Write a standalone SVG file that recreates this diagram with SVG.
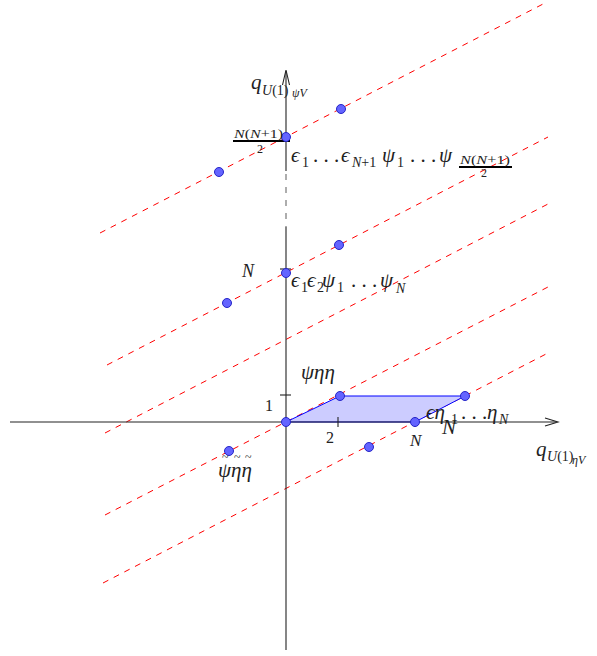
<svg xmlns="http://www.w3.org/2000/svg" width="597" height="656" viewBox="0 0 597 656">
<style>
.ax{stroke:#222;stroke-width:1.1;fill:none}
.dash{stroke:#ff0000;stroke-width:1;stroke-dasharray:6 6;fill:none}
.dot{fill:#6464ff;stroke:#2525c8;stroke-width:1}
.t{font-family:"Liberation Serif","DejaVu Serif",serif;fill:#222}
.i{font-style:italic}
.m{font-size:21px}
.s{font-size:14px}
.ss{font-size:12px}
</style>
<rect width="597" height="656" fill="#fff"/>
<g id="connectors">
<line class="dash" x1="100" y1="233" x2="545" y2="3"/>
<line class="dash" x1="107" y1="365" x2="548" y2="137"/>
<line class="dash" x1="105" y1="433" x2="548" y2="204"/>
<line class="dash" x1="105" y1="515" x2="548" y2="287"/>
<line class="dash" x1="103" y1="583" x2="548" y2="353"/>
</g>
<g id="region">
<polygon points="286,422 340,396 465,396 415,422" fill="#ccccff" stroke="#0000ff" stroke-width="1"/>
</g>
<g id="axes">
<line class="ax" x1="10" y1="422" x2="557" y2="422"/>
<path class="ax" d="M545,418 L558,422 L545,426"/>
<line class="ax" x1="286" y1="71" x2="286" y2="171"/>
<line x1="286" y1="174" x2="286" y2="227" stroke="#777" stroke-width="1.2" stroke-dasharray="6 7"/>
<line class="ax" x1="286" y1="227" x2="286" y2="650"/>
<path class="ax" d="M282.5,85 L286,70 L289.5,85"/>
<line class="ax" x1="338" y1="417" x2="338" y2="427"/>
<line class="ax" x1="415" y1="417" x2="415" y2="427"/>
<line class="ax" x1="280" y1="395" x2="291" y2="395"/>
<line class="ax" x1="280" y1="269" x2="291" y2="269"/>
<line x1="233" y1="141" x2="290" y2="141" stroke="#000" stroke-width="2"/>
<line x1="459" y1="167" x2="512" y2="167" stroke="#000" stroke-width="2"/>
</g>
<g id="points">
<circle class="dot" cx="286" cy="422" r="4.5"/>
<circle class="dot" cx="340" cy="396" r="4.5"/>
<circle class="dot" cx="465" cy="396" r="4.5"/>
<circle class="dot" cx="415" cy="422" r="4.5"/>
<circle class="dot" cx="369" cy="447" r="4.5"/>
<circle class="dot" cx="229" cy="451" r="4.5"/>
<circle class="dot" cx="286" cy="273" r="4.5"/>
<circle class="dot" cx="339" cy="245" r="4.5"/>
<circle class="dot" cx="227" cy="303" r="4.5"/>
<circle class="dot" cx="286" cy="137" r="4.5"/>
<circle class="dot" cx="341" cy="109" r="4.5"/>
<circle class="dot" cx="219" cy="172" r="4.5"/>
</g>
<g id="label-qpsi">
<text class="t i" x="251" y="89" font-size="21">q</text>
<text class="t s" x="262" y="95" font-size="15"><tspan class="i">U</tspan>(1)</text>
<text class="t ss i" x="292" y="97" font-size="11">ψV</text>
</g>
<g id="label-qeta">
<text class="t i" x="536" y="456" font-size="21">q</text>
<text class="t s" x="547" y="461" font-size="14"><tspan class="i">U</tspan>(1)</text>
<text class="t ss i" x="572" y="464" font-size="11">ηV</text>
</g>
<g id="label-half">
<text class="t ss" x="234" y="138" textLength="49" lengthAdjust="spacingAndGlyphs"><tspan class="i">N</tspan>(<tspan class="i">N</tspan>+1)</text>
<text class="t ss" x="257" y="153">2</text>
</g>
<g id="label-top">
<text class="t m i" x="291" y="162">ϵ</text>
<text class="t s" x="302" y="167">1</text>
<text class="t m" x="313" y="162">. . .</text>
<text class="t m i" x="341" y="162">ϵ</text>
<text class="t s" x="352" y="167"><tspan class="i">N</tspan>+1</text>
<text class="t m i" x="382" y="162">ψ</text>
<text class="t s" x="397" y="167">1</text>
<text class="t m" x="410" y="162">. . .</text>
<text class="t m i" x="439" y="162">ψ</text>
<text class="t ss" x="460" y="164" textLength="50" lengthAdjust="spacingAndGlyphs"><tspan class="i">N</tspan>(<tspan class="i">N</tspan>+1)</text>
<text class="t ss" x="481" y="177">2</text>
</g>
<g id="label-N">
<text class="t i" x="242" y="277" font-size="18">N</text>
<text class="t m i" x="291" y="287">ϵ</text>
<text class="t s" x="301" y="292">1</text>
<text class="t m i" x="307" y="287">ϵ</text>
<text class="t s" x="317" y="292">2</text>
<text class="t m i" x="322" y="287">ψ</text>
<text class="t s" x="337" y="292">1</text>
<text class="t m" x="351" y="287">. . .</text>
<text class="t m i" x="380" y="287">ψ</text>
<text class="t s i" x="396" y="293">N</text>
</g>
<g id="label-psieta">
<text class="t m i" x="301" y="379">ψηη</text>
<text class="t" x="265" y="411" font-size="16">1</text>
<text class="t" x="326" y="443" font-size="16">2</text>
<text class="t i" x="410" y="446" font-size="17">N</text>
</g>
<g id="label-eta">
<text class="t m i" x="426" y="419">ϵη</text>
<text class="t s" x="451" y="424">1</text>
<text class="t m" x="461" y="419">. . .</text>
<text class="t m i" x="487" y="419">η</text>
<text class="t s i" x="499" y="424">N</text>
<text class="t i" x="442" y="434" font-size="21">N</text>
</g>
<g id="label-tilde">
<text class="t m i" x="218" y="477">ψηη</text>
<text class="t" x="222" y="461" font-size="12">~</text>
<text class="t" x="234" y="461" font-size="12">~</text>
<text class="t" x="245" y="461" font-size="12">~</text>
</g>
</svg>
